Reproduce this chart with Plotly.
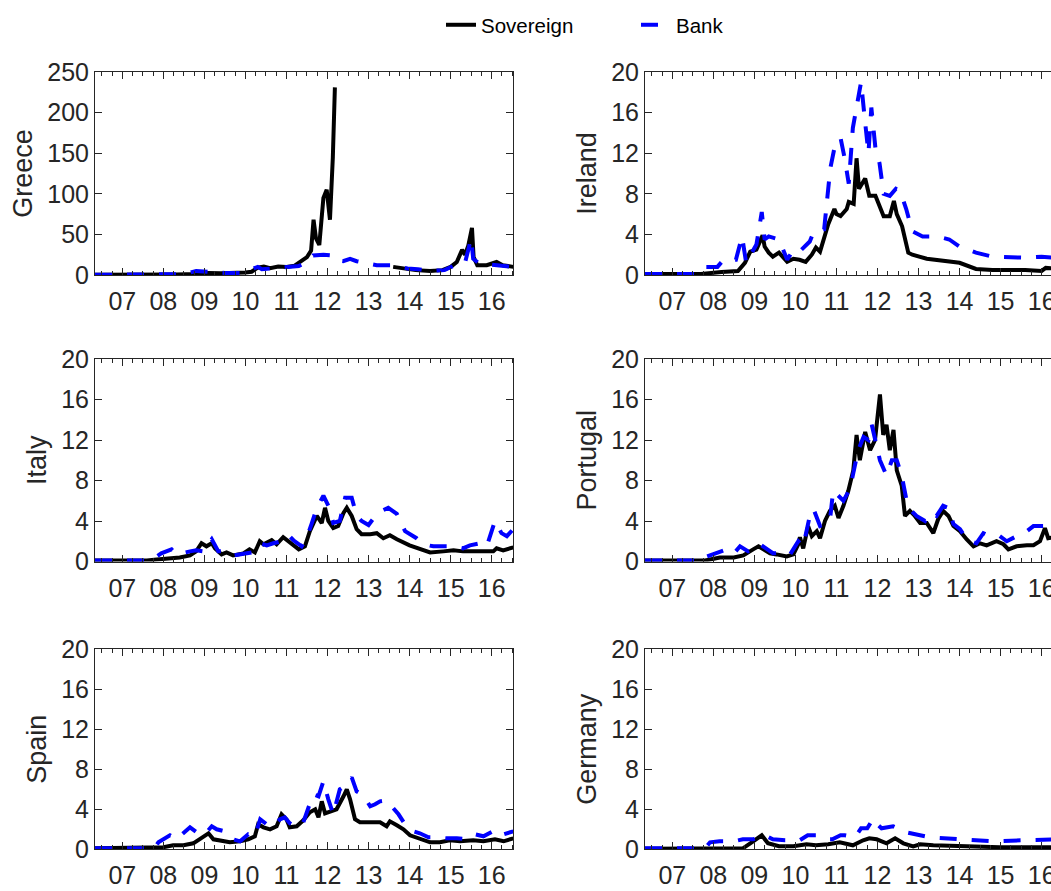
import plotly.graph_objects as go
from plotly.subplots import make_subplots

# ---------------- data (decimal year, value) ----------------
gre_sov = [(2006.335,0.3),(2006.8,0.2),(2007.3,0.2),(2007.8,0.3),(2008.3,0.6),(2008.8,1.2),(2009.1,2.5),(2009.4,2.2),(2009.8,2.0),(2010.0,3.0),(2010.15,4.0),(2010.3,9.0),(2010.45,10.5),(2010.6,8.5),(2010.8,10.5),(2011.0,10.0),(2011.2,11.5),(2011.38,18.0),(2011.5,22.0),(2011.6,30.0),(2011.66,68.0),(2011.72,45.0),(2011.8,37.0),(2011.9,95.0),(2011.98,105.0),(2012.06,68.0),(2012.13,145.0),(2012.18,231.0),(2012.2,None),(2013.6,10.0),(2013.93,7.0),(2014.15,6.0),(2014.5,5.0),(2014.8,6.0),(2015.0,10.0),(2015.15,16.0),(2015.28,31.0),(2015.35,25.0),(2015.43,36.0),(2015.52,58.0),(2015.56,22.0),(2015.65,12.0),(2015.88,12.0),(2016.12,16.0),(2016.27,12.0),(2016.527,10.0)]
gre_bank = [(2006.335,0.2),(2007.0,0.2),(2007.8,0.3),(2008.5,1.0),(2008.8,5.0),(2009.1,4.0),(2009.5,2.5),(2009.9,2.5),(2010.16,7.0),(2010.3,10.0),(2010.4,7.0),(2010.6,8.0),(2010.9,10.0),(2011.3,11.0),(2011.5,16.0),(2011.65,24.0),(2011.9,25.0),(2012.14,24.0),(2012.23,18.0),(2012.38,17.0),(2012.55,20.0),(2012.71,17.0),(2012.9,15.0),(2013.2,12.0),(2013.6,12.0),(2013.95,8.0),(2014.2,7.0),(2014.5,5.0),(2014.85,6.0),(2015.1,12.0),(2015.35,15.0),(2015.5,45.0),(2015.55,20.0),(2015.7,14.0),(2015.95,13.0),(2016.2,12.0),(2016.527,10.0)]

irl_sov = [(2006.335,0.1),(2007.7,0.1),(2008.2,0.3),(2008.6,0.4),(2008.77,1.2),(2008.9,2.3),(2009.05,2.5),(2009.15,3.3),(2009.2,3.9),(2009.25,2.8),(2009.35,2.2),(2009.45,1.8),(2009.6,2.2),(2009.8,1.3),(2009.95,1.6),(2010.1,1.5),(2010.25,1.3),(2010.4,2.0),(2010.5,2.7),(2010.6,2.3),(2010.7,3.8),(2010.8,5.0),(2010.95,6.5),(2011.0,6.0),(2011.1,5.8),(2011.25,6.5),(2011.3,7.2),(2011.42,7.0),(2011.49,11.5),(2011.55,8.5),(2011.7,9.5),(2011.8,7.8),(2011.95,7.8),(2012.05,6.8),(2012.15,5.8),(2012.3,5.8),(2012.4,7.3),(2012.47,6.0),(2012.6,4.8),(2012.75,2.2),(2012.85,2.0),(2013.2,1.6),(2013.6,1.4),(2014.0,1.2),(2014.4,0.6),(2014.8,0.5),(2015.6,0.5),(2016.0,0.4),(2016.1,0.7),(2016.527,0.6)]
irl_bank = [(2006.335,0.1),(2007.6,0.1),(2007.8,0.8),(2008.1,0.8),(2008.25,1.5),(2008.55,1.5),(2008.7,3.8),(2008.8,1.2),(2009.05,3.0),(2009.18,6.2),(2009.25,3.5),(2009.35,3.8),(2009.6,3.5),(2009.8,1.5),(2009.95,2.5),(2010.1,2.3),(2010.35,3.3),(2010.45,4.3),(2010.7,4.5),(2010.85,10.5),(2010.95,12.5),(2011.1,13.5),(2011.2,11.5),(2011.3,9.0),(2011.4,14.5),(2011.53,17.5),(2011.6,19.0),(2011.7,15.0),(2011.78,12.0),(2011.85,16.5),(2011.95,12.5),(2012.05,11.0),(2012.15,8.0),(2012.3,7.8),(2012.45,8.5),(2012.55,8.3),(2012.7,6.5),(2012.85,4.3),(2013.1,3.8),(2013.45,3.8),(2013.75,3.5),(2014.0,2.8),(2014.4,2.2),(2014.8,1.8),(2015.6,1.7),(2016.0,1.8),(2016.527,1.6)]

ita_sov = [(2006.335,0.1),(2007.6,0.1),(2007.84,0.2),(2008.16,0.3),(2008.4,0.4),(2008.65,0.6),(2008.8,1.0),(2008.93,1.8),(2009.05,1.5),(2009.18,1.8),(2009.26,1.3),(2009.42,0.7),(2009.54,0.9),(2009.7,0.6),(2009.95,0.8),(2010.1,1.2),(2010.23,0.9),(2010.35,2.0),(2010.44,1.7),(2010.64,2.1),(2010.76,1.7),(2010.92,2.4),(2011.05,2.0),(2011.17,1.6),(2011.3,1.2),(2011.45,1.5),(2011.57,3.0),(2011.74,4.5),(2011.86,3.8),(2011.94,5.3),(2012.02,4.0),(2012.14,3.3),(2012.26,3.5),(2012.39,4.8),(2012.47,5.3),(2012.59,4.5),(2012.71,3.2),(2012.83,2.7),(2013.04,2.7),(2013.2,2.8),(2013.36,2.3),(2013.52,2.6),(2013.69,2.2),(2014.0,1.6),(2014.25,1.2),(2014.5,0.9),(2014.82,1.0),(2015.07,1.1),(2015.3,1.0),(2015.55,1.0),(2015.88,1.0),(2016.04,1.0),(2016.12,1.3),(2016.28,1.1),(2016.527,1.4)]
ita_bank = [(2006.335,0.1),(2007.7,0.1),(2007.84,0.5),(2007.95,0.8),(2008.2,1.2),(2008.32,0.7),(2008.65,1.0),(2008.8,1.1),(2008.97,1.0),(2009.18,2.2),(2009.34,1.0),(2009.54,1.0),(2009.7,0.6),(2010.03,0.8),(2010.15,0.9),(2010.35,1.8),(2010.52,1.6),(2010.68,1.8),(2010.88,2.0),(2011.05,2.6),(2011.17,2.1),(2011.37,1.5),(2011.49,2.3),(2011.61,3.7),(2011.74,5.3),(2011.9,6.5),(2012.02,5.5),(2012.14,3.8),(2012.3,4.0),(2012.43,6.3),(2012.59,6.3),(2012.71,4.5),(2012.83,4.0),(2013.0,3.6),(2013.2,4.7),(2013.32,5.0),(2013.48,5.3),(2013.69,4.7),(2013.89,3.0),(2014.17,2.3),(2014.33,1.7),(2014.58,1.5),(2014.82,1.5),(2015.07,1.5),(2015.3,1.3),(2015.47,1.6),(2015.71,1.8),(2015.88,1.5),(2016.08,4.0),(2016.24,2.8),(2016.37,2.5),(2016.527,3.2)]

prt_sov = [(2006.335,0.1),(2007.8,0.1),(2007.92,0.2),(2008.16,0.4),(2008.5,0.4),(2008.73,0.6),(2008.97,1.2),(2009.1,1.5),(2009.22,1.2),(2009.38,0.8),(2009.54,0.7),(2009.79,0.5),(2009.95,0.7),(2010.07,1.7),(2010.11,2.4),(2010.19,1.3),(2010.31,3.5),(2010.4,2.5),(2010.52,3.0),(2010.6,2.3),(2010.72,4.0),(2010.84,5.0),(2010.96,5.5),(2011.05,4.3),(2011.17,5.5),(2011.29,7.0),(2011.41,9.0),(2011.49,12.5),(2011.57,10.0),(2011.7,12.8),(2011.82,11.0),(2011.94,12.0),(2012.06,16.5),(2012.14,12.5),(2012.22,13.5),(2012.3,11.0),(2012.39,13.0),(2012.47,9.0),(2012.59,7.5),(2012.67,4.5),(2012.79,5.0),(2012.91,4.5),(2013.04,3.8),(2013.2,3.8),(2013.36,2.8),(2013.48,4.2),(2013.6,5.0),(2013.73,4.5),(2013.85,3.5),(2014.01,3.0),(2014.17,2.2),(2014.34,1.5),(2014.5,1.8),(2014.66,1.6),(2014.9,2.0),(2015.07,1.7),(2015.19,1.2),(2015.39,1.5),(2015.64,1.6),(2015.8,1.6),(2015.96,2.0),(2016.08,3.3),(2016.16,2.3),(2016.527,2.5)]
prt_bank = [(2006.335,0.1),(2007.75,0.1),(2007.84,0.5),(2008.16,1.0),(2008.32,1.2),(2008.5,0.8),(2008.65,1.5),(2008.85,1.0),(2008.97,1.1),(2009.14,1.7),(2009.3,1.2),(2009.46,0.8),(2009.66,0.9),(2009.87,0.7),(2010.07,2.0),(2010.19,1.5),(2010.35,4.5),(2010.44,5.2),(2010.6,3.5),(2010.84,4.0),(2010.92,7.0),(2011.05,6.5),(2011.17,6.0),(2011.33,7.2),(2011.45,9.5),(2011.53,11.0),(2011.66,12.3),(2011.78,12.0),(2011.86,13.5),(2011.94,12.0),(2012.06,10.0),(2012.22,8.5),(2012.35,10.0),(2012.47,10.0),(2012.59,8.5),(2012.71,6.0),(2012.83,5.0),(2012.95,4.5),(2013.16,4.0),(2013.28,4.8),(2013.44,4.5),(2013.6,5.5),(2013.73,5.3),(2013.85,3.7),(2014.01,3.2),(2014.17,2.2),(2014.41,1.8),(2014.58,2.8),(2014.74,2.5),(2014.98,2.5),(2015.15,2.0),(2015.39,2.5),(2015.64,3.0),(2015.8,3.5),(2015.96,3.5),(2016.16,3.5),(2016.527,3.8)]

esp_sov = [(2006.335,0.1),(2007.85,0.1),(2008.0,0.2),(2008.24,0.4),(2008.49,0.4),(2008.73,0.6),(2008.89,1.0),(2009.1,1.6),(2009.22,1.0),(2009.42,0.9),(2009.62,0.7),(2009.87,0.8),(2010.07,1.0),(2010.23,1.3),(2010.31,2.5),(2010.44,2.2),(2010.6,2.0),(2010.76,2.3),(2010.88,3.5),(2011.0,3.0),(2011.08,2.2),(2011.25,2.3),(2011.41,2.9),(2011.57,3.7),(2011.7,4.0),(2011.78,3.2),(2011.86,4.8),(2011.94,3.6),(2012.06,3.8),(2012.22,4.0),(2012.39,5.3),(2012.47,6.0),(2012.55,5.0),(2012.67,3.0),(2012.79,2.7),(2012.95,2.7),(2013.12,2.8),(2013.28,2.7),(2013.44,2.3),(2013.52,2.8),(2013.69,2.4),(2013.85,2.0),(2014.01,1.4),(2014.25,1.1),(2014.5,0.7),(2014.74,0.7),(2014.98,0.9),(2015.23,0.8),(2015.55,0.9),(2015.8,0.8),(2016.08,1.0),(2016.29,0.8),(2016.527,1.1)]
esp_bank = [(2006.335,0.1),(2007.78,0.1),(2007.88,0.7),(2008.16,1.4),(2008.32,1.0),(2008.65,2.2),(2008.85,1.6),(2009.01,1.5),(2009.18,2.3),(2009.3,2.0),(2009.5,1.8),(2009.7,1.0),(2009.87,0.8),(2010.07,1.5),(2010.23,1.3),(2010.36,3.0),(2010.52,2.5),(2010.68,2.3),(2010.84,3.0),(2010.96,3.2),(2011.08,2.6),(2011.25,2.2),(2011.41,2.7),(2011.53,4.0),(2011.65,5.5),(2011.78,5.3),(2011.9,6.8),(2012.02,5.0),(2012.14,3.5),(2012.3,6.0),(2012.47,6.5),(2012.59,7.2),(2012.71,5.8),(2012.87,5.4),(2013.04,4.3),(2013.16,4.5),(2013.28,4.8),(2013.44,4.9),(2013.56,4.3),(2013.73,3.5),(2013.89,2.5),(2014.09,1.8),(2014.25,1.6),(2014.46,1.2),(2014.66,1.2),(2014.9,1.1),(2015.15,1.1),(2015.39,1.0),(2015.6,1.5),(2015.8,1.3),(2016.12,2.0),(2016.29,1.5),(2016.527,1.8)]

deu_sov = [(2006.335,0.05),(2008.0,0.1),(2008.72,0.1),(2008.9,0.6),(2009.18,1.4),(2009.33,0.6),(2009.6,0.3),(2009.95,0.3),(2010.27,0.5),(2010.5,0.4),(2010.8,0.5),(2011.08,0.7),(2011.4,0.4),(2011.65,0.9),(2011.8,1.1),(2011.98,1.0),(2012.22,0.6),(2012.43,1.1),(2012.63,0.6),(2012.87,0.3),(2013.04,0.5),(2013.36,0.4),(2013.77,0.3),(2014.17,0.3),(2014.98,0.2),(2015.8,0.2),(2016.527,0.2)]
deu_bank = [(2006.335,0.1),(2007.8,0.1),(2007.92,0.7),(2008.15,0.8),(2008.5,0.8),(2008.72,1.0),(2008.97,1.0),(2009.26,1.4),(2009.45,1.0),(2009.75,0.9),(2010.1,0.9),(2010.3,1.4),(2010.5,1.4),(2010.75,1.0),(2010.9,1.0),(2011.1,1.4),(2011.2,1.4),(2011.45,1.2),(2011.6,2.1),(2011.75,2.1),(2011.9,3.1),(2011.97,2.6),(2012.1,2.1),(2012.38,2.3),(2012.7,1.7),(2013.27,1.2),(2014.0,1.0),(2014.8,0.8),(2015.5,0.9),(2016.0,0.9),(2016.527,1.0)]

countries = ["Greece", "Ireland", "Italy", "Portugal", "Spain", "Germany"]
sov_series = [gre_sov, irl_sov, ita_sov, prt_sov, esp_sov, deu_sov]
bank_series = [gre_bank, irl_bank, ita_bank, prt_bank, esp_bank, deu_bank]
series_names = ["Sovereign", "Bank"]

year_ticks = [2007, 2008, 2009, 2010, 2011, 2012, 2013, 2014, 2015, 2016]
year_labels = ["07", "08", "09", "10", "11", "12", "13", "14", "15", "16"]
greece_yticks = [0, 50, 100, 150, 200, 250]
other_yticks = [0, 4, 8, 12, 16, 20]

# ---------------- figure ----------------
W, H = 1051, 891
FONT = "Liberation Sans, Arial, Helvetica, sans-serif"
AX = "#262626"

fig = make_subplots(rows=3, cols=2)

for k, name in enumerate(countries):
    r, c = k // 2 + 1, k % 2 + 1
    sx = [p[0] for p in sov_series[k]]
    sy = [p[1] for p in sov_series[k]]
    bx = [p[0] for p in bank_series[k]]
    by = [p[1] for p in bank_series[k]]
    fig.add_trace(go.Scatter(x=sx, y=sy, mode="lines", name=series_names[0],
                             line=dict(color="black", width=4),
                             connectgaps=False, showlegend=(k == 0)), row=r, col=c)
    fig.add_trace(go.Scatter(x=bx, y=by, mode="lines", name=series_names[1],
                             line=dict(color="#0000ff", width=4, dash="17px,15px"),
                             showlegend=(k == 0)), row=r, col=c)

# domains in pixels
col_x = {1: (95, 513.3), 2: (645, 1051)}
col_xrange = {1: [2006.335, 2016.527], 2: [2006.335, 2016.228]}
row_y = {1: (72, 275), 2: (359, 561.5), 3: (649.3, 849.3)}

for k, name in enumerate(countries):
    r, c = k // 2 + 1, k % 2 + 1
    idx = "" if k == 0 else str(k + 1)
    x0, x1 = col_x[c]
    t, b = row_y[r]
    fig.layout["xaxis" + idx].update(
        domain=[x0 / W, x1 / W], range=col_xrange[c], automargin=False,
        tickmode="array", tickvals=year_ticks, ticktext=year_labels,
        ticks="inside", ticklen=7, tickwidth=1, tickcolor=AX,
        minor=dict(dtick=0.25, tick0=2007, ticks="inside", ticklen=4, tickcolor=AX, showgrid=False),
        showline=True, linecolor=AX, linewidth=1, mirror="ticks",
        showgrid=False, zeroline=False, ticklabeloverflow="allow",
        tickfont=dict(family=FONT, size=25, color=AX), ticklabelstandoff=4,
    )
    yt = greece_yticks if k == 0 else other_yticks
    fig.layout["yaxis" + idx].update(
        domain=[1 - b / H, 1 - t / H], range=[0, yt[-1]], automargin=False,
        tickmode="array", tickvals=yt, ticktext=[str(v) for v in yt],
        ticks="inside", ticklen=7, tickwidth=1, tickcolor=AX,
        showline=True, linecolor=AX, linewidth=1,
        mirror=("ticks" if c == 1 else False),
        showgrid=False, zeroline=False,
        tickfont=dict(family=FONT, size=25, color=AX),
        title=dict(text=name, font=dict(family=FONT, size=27, color=AX), standoff=6),
    )

fig.update_layout(
    width=W, height=H, margin=dict(l=0, r=0, t=0, b=0, autoexpand=False),
    paper_bgcolor="white", plot_bgcolor="white",
    font=dict(family=FONT, color=AX),
    legend=dict(orientation="h", x=441 / W, xanchor="left", y=0.972, yanchor="middle",
                entrywidth=150, entrywidthmode="pixels",
                font=dict(family=FONT, size=20.5, color="black"),
                bgcolor="rgba(0,0,0,0)"),
)

fig.write_html("out.html", config={"displayModeBar": False},
               post_script="document.body.style.margin='0px';")
